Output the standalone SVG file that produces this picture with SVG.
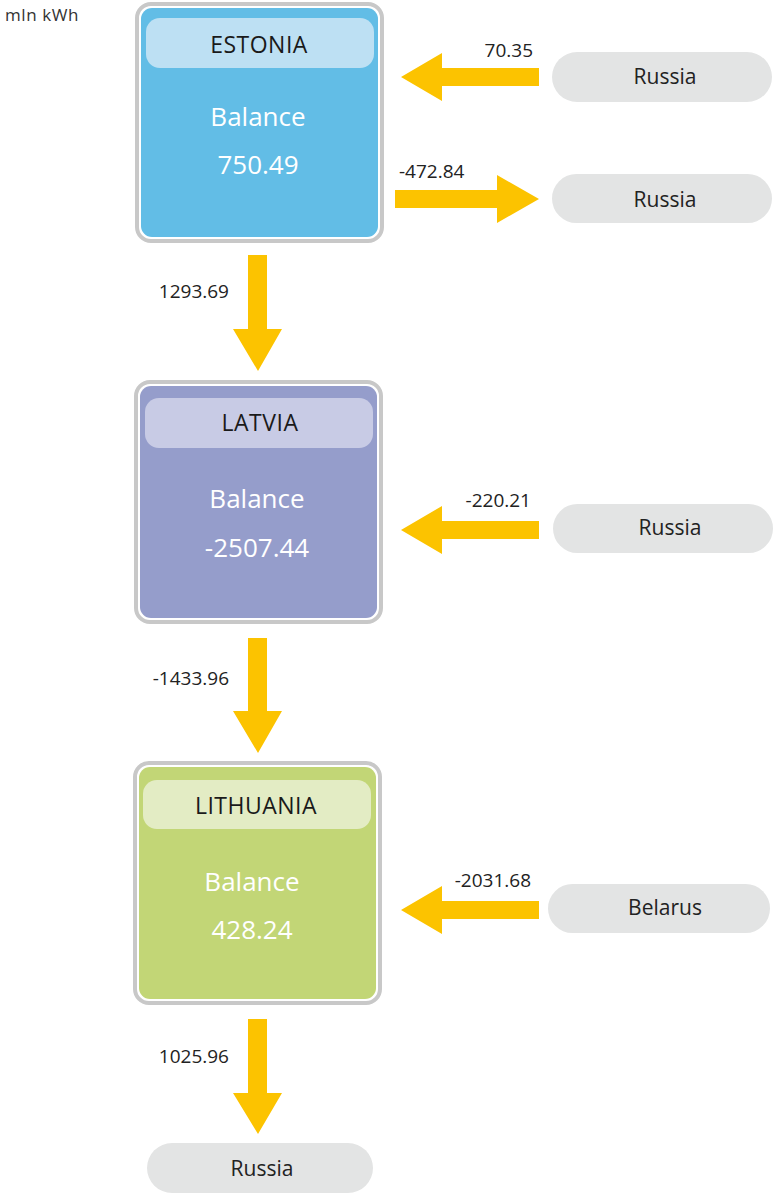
<svg xmlns="http://www.w3.org/2000/svg" width="773" height="1194" viewBox="0 0 773 1194">
  <style>
    text { font-family: "Open Sans", "Liberation Sans", sans-serif; }
    .frame { fill: #ffffff; stroke: #c8c8c8; stroke-width: 4; }
    .title { font-size: 23px; fill: #1a1a1a; text-anchor: middle; letter-spacing: 0.5px; }
    .big { font-size: 26px; fill: #ffffff; text-anchor: middle; }
    .pill { fill: #e3e4e4; }
    .pill-text { font-size: 21px; fill: #222222; text-anchor: middle; }
    .flow { fill: #fcc300; }
    .flow-label { font-size: 19px; fill: #222222; }
    .unit { font-size: 17px; fill: #333333; letter-spacing: 0.6px; }
  </style>

  <text class="unit" x="5" y="21">mln kWh</text>

  <!-- country balance boxes -->
  <g id="estonia">
    <rect class="frame" x="137" y="4" width="245" height="237" rx="14"/>
    <rect x="141" y="8" width="237" height="229" rx="11" fill="#62bde6"/>
    <rect x="146" y="18" width="228" height="50" rx="14" fill="#bde0f3"/>
    <text class="title" x="259" y="53">ESTONIA</text>
    <text class="big" x="258" y="126">Balance</text>
    <text class="big" x="258" y="174">750.49</text>
  </g>

  <g id="latvia">
    <rect class="frame" x="136" y="382" width="245" height="240" rx="14"/>
    <rect x="140" y="386" width="237" height="232" rx="11" fill="#959dcb"/>
    <rect x="145" y="398" width="228" height="50" rx="14" fill="#c8cbe5"/>
    <text class="title" x="260" y="431">LATVIA</text>
    <text class="big" x="257" y="508">Balance</text>
    <text class="big" x="257" y="557">-2507.44</text>
  </g>

  <g id="lithuania">
    <rect class="frame" x="135" y="763" width="245" height="240" rx="14"/>
    <rect x="139" y="767" width="237" height="232" rx="11" fill="#c2d676"/>
    <rect x="143" y="780" width="228" height="49" rx="14" fill="#e3ecc4"/>
    <text class="title" x="256" y="814">LITHUANIA</text>
    <text class="big" x="252" y="891">Balance</text>
    <text class="big" x="252" y="939">428.24</text>
  </g>

  <!-- neighbouring countries -->
  <g id="russia-import-ee">
    <rect class="pill" x="552" y="52" width="220" height="50" rx="25"/>
    <text class="pill-text" x="665" y="84">Russia</text>
  </g>
  <g id="russia-export-ee">
    <rect class="pill" x="552" y="174" width="220" height="49" rx="24.5"/>
    <text class="pill-text" x="665" y="207">Russia</text>
  </g>
  <g id="russia-lv">
    <rect class="pill" x="553" y="504" width="220" height="49" rx="24.5"/>
    <text class="pill-text" x="670" y="535">Russia</text>
  </g>
  <g id="belarus">
    <rect class="pill" x="548" y="884" width="222" height="49" rx="24.5"/>
    <text class="pill-text" x="665" y="915">Belarus</text>
  </g>
  <g id="russia-lt">
    <rect class="pill" x="147" y="1143" width="226" height="50" rx="25"/>
    <text class="pill-text" x="262" y="1176">Russia</text>
  </g>

  <!-- flows between systems -->
  <g id="connectors">
    <polygon class="flow" points="401,77 442,53 442,68 539,68 539,86 442,86 442,101"/>
    <text class="flow-label" x="533" y="57" text-anchor="end">70.35</text>

    <polygon class="flow" points="395,190 497,190 497,175 539,199 497,223 497,208 395,208"/>
    <text class="flow-label" x="399" y="178">-472.84</text>

    <polygon class="flow" points="248,255 267,255 267,329 282,329 258,371 233,329 248,329"/>
    <text class="flow-label" x="229" y="298" text-anchor="end">1293.69</text>

    <polygon class="flow" points="401,530 442,506 442,521 539,521 539,539 442,539 442,554"/>
    <text class="flow-label" x="531" y="507" text-anchor="end">-220.21</text>

    <polygon class="flow" points="248,638 267,638 267,711 282,711 258,753 233,711 248,711"/>
    <text class="flow-label" x="229" y="685" text-anchor="end">-1433.96</text>

    <polygon class="flow" points="401,910 442,886 442,901 539,901 539,919 442,919 442,934"/>
    <text class="flow-label" x="531" y="887" text-anchor="end">-2031.68</text>

    <polygon class="flow" points="248,1019 267,1019 267,1093 282,1093 258,1134 233,1093 248,1093"/>
    <text class="flow-label" x="229" y="1063" text-anchor="end">1025.96</text>
  </g>
</svg>
